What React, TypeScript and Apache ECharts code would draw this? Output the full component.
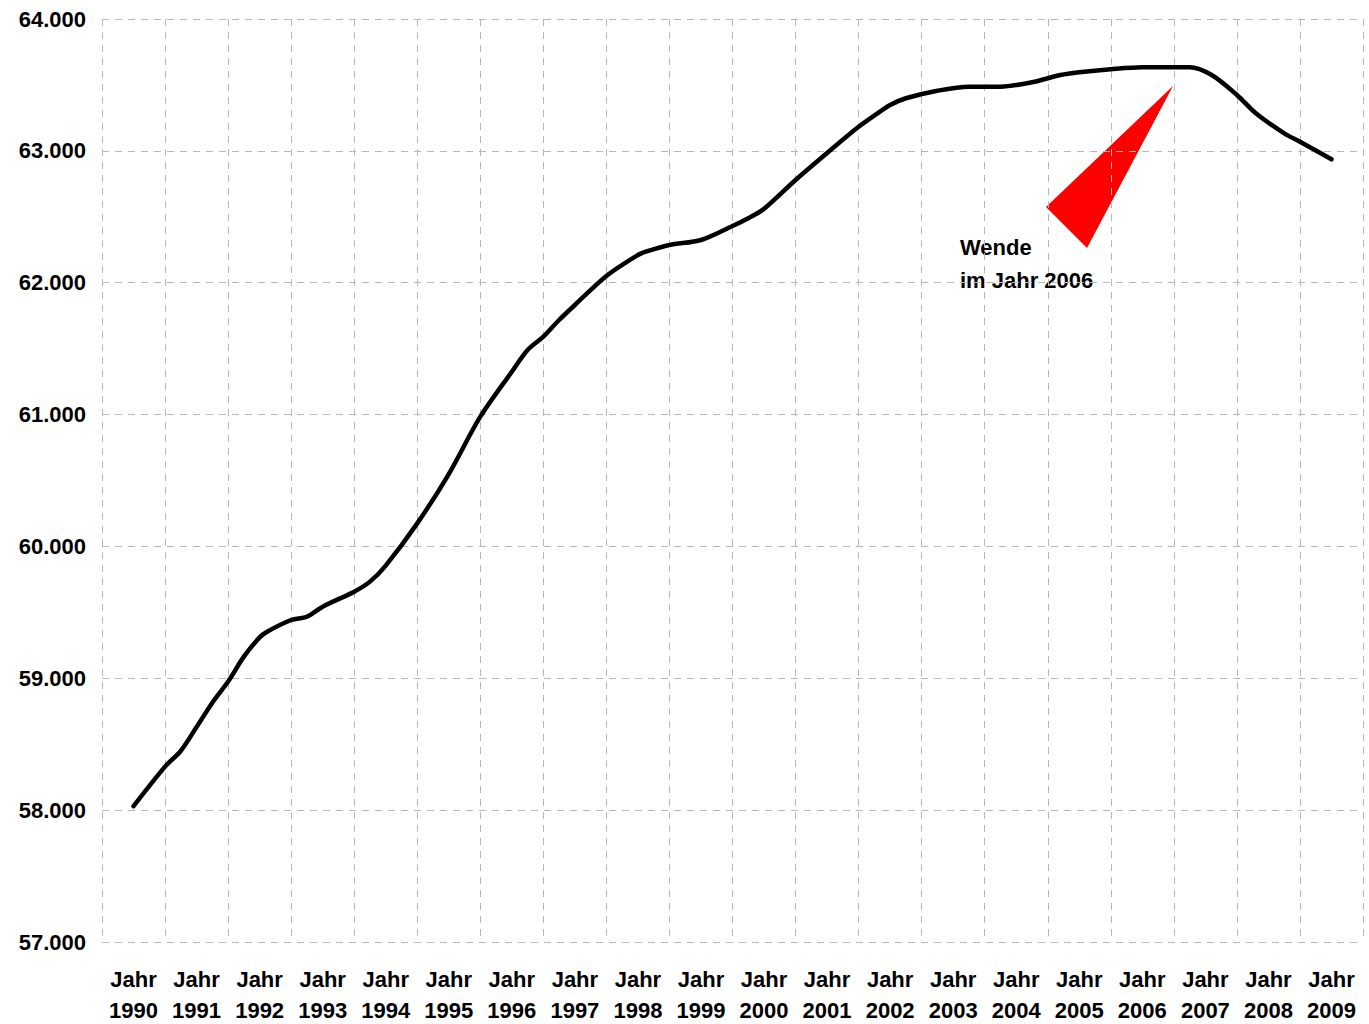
import React, { useEffect, useRef } from "react";
import * as echarts from "echarts";

const years = ["1990","1991","1992","1993","1994","1995","1996","1997","1998","1999","2000","2001","2002","2003","2004","2005","2006","2007","2008","2009"];

// time position (year fraction) of each point on the curve
const times = [
  1990.0, 1990.5, 1990.75, 1991.0, 1991.25, 1991.5, 1991.75, 1992.0, 1992.125, 1992.5, 1992.75,
  1993.0, 1993.5, 1993.75, 1994.0, 1994.5, 1995.0, 1995.5, 1996.0, 1996.25, 1996.5, 1996.75,
  1997.0, 1997.5, 1998.0, 1998.125, 1998.5, 1999.0, 1999.5, 1999.75, 2000.0, 2000.5,
  2001.0, 2001.5, 2001.8, 2002.0, 2002.25, 2002.75, 2003.25, 2003.75, 2004.25, 2004.7, 2005.0,
  2005.5, 2006.0, 2006.75, 2007.1, 2007.5, 2007.8, 2008.25, 2008.5, 2009.0
];
const values = [
  58030, 58330, 58450, 58630, 58815, 58975, 59164, 59310, 59355, 59442, 59467,
  59543, 59657, 59733, 59855, 60175, 60549, 60984, 61325, 61490, 61591, 61717,
  61831, 62051, 62210, 62235, 62286, 62324, 62430, 62489, 62560, 62779,
  62984, 63183, 63285, 63348, 63399, 63456, 63487, 63487, 63520, 63575, 63596,
  63619, 63634, 63634, 63575, 63424, 63285, 63133, 63069, 62936
];

const yMin = 57000;
const yMax = 64000;
const yStep = 1000;

const noteLines = ["Wende", "im Jahr 2006"];

const FONT = "'Liberation Sans', Arial, sans-serif";

export default function App() {
  const ref = useRef<HTMLDivElement>(null);
  useEffect(() => {
    document.body.style.margin = "0";
    const chart = echarts.init(ref.current!, null, { renderer: "svg" });
    const gridStyle = { color: "#b8b8b8", width: 1, type: [7, 6] as any };
    chart.setOption({
      animation: false,
      backgroundColor: "#ffffff",
      grid: { left: 102, right: 6, top: 19, bottom: 82, containLabel: false, outerBoundsMode: "none" },
      xAxis: [
        {
          type: "category",
          data: years,
          boundaryGap: true,
          axisLine: { show: false },
          axisTick: { show: false },
          splitLine: { show: true, lineStyle: gridStyle },
          axisLabel: {
            interval: 0,
            margin: 22,
            formatter: (v: string) => "Jahr\n" + v,
            fontFamily: FONT,
            fontWeight: "bold",
            fontSize: 22,
            lineHeight: 31,
            color: "#000",
          },
        },
        {
          type: "value",
          min: 1989.5,
          max: 2009.5,
          show: false,
          splitLine: { show: false },
        },
      ],
      yAxis: {
        type: "value",
        min: yMin,
        max: yMax,
        interval: yStep,
        axisLine: { show: false },
        axisTick: { show: false },
        splitLine: { show: true, lineStyle: gridStyle },
        axisLabel: {
          margin: 16,
          formatter: (v: number) => (v / 1000).toFixed(3),
          fontFamily: FONT,
          fontWeight: "bold",
          fontSize: 22,
          color: "#000",
        },
      },
      series: [
        {
          type: "line",
          xAxisIndex: 1,
          data: times.map((t, i) => [t, values[i]]),
          showSymbol: false,
          smooth: 0.3,
          lineStyle: { color: "#000", width: 4.5, cap: "round", join: "round" },
        },
      ],
      graphic: [
        {
          type: "polygon",
          shape: { points: [[1046, 207], [1173, 86], [1087, 248]] },
          style: { fill: "#ff0000" },
        },
        {
          type: "text",
          x: 960,
          y: 231,
          style: {
            text: noteLines.join("\n"),
            font: "bold 22px " + FONT,
            lineHeight: 33,
            fill: "#000",
          },
        },
      ],
    });
    return () => chart.dispose();
  }, []);
  return <div ref={ref} style={{ width: 1369, height: 1024 }} />;
}
